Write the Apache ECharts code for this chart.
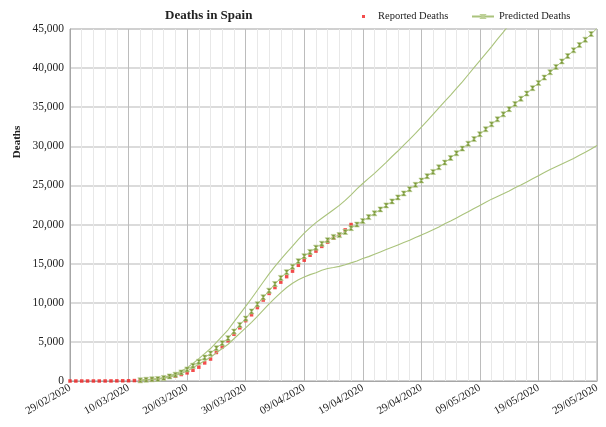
<!DOCTYPE html>
<html>
<head>
<meta charset="utf-8">
<script src="https://cdn.jsdelivr.net/npm/echarts@6/dist/echarts.min.js"></script>
<style>
  html, body { margin: 0; padding: 0; background: #ffffff; }
  #chart { width: 606px; height: 427px; }
</style>
</head>
<body>
<div id="chart"></div>
<script>
// Day index 0 = 29/02/2020; one tick label every 10 days
const tickLabels = ['29/02/2020', '10/03/2020', '20/03/2020', '30/03/2020', '09/04/2020',
                    '19/04/2020', '29/04/2020', '09/05/2020', '19/05/2020', '29/05/2020'];
const lastDay = 90;

// Cumulative reported deaths, day 0 .. day 48
const reportedDeaths = [0, 0, 0, 1, 2, 3, 5, 10, 17, 28, 35, 54, 55, 133, 195, 289, 342, 533, 623, 830,
  1043, 1375, 1772, 2311, 2808, 3647, 4365, 5138, 5982, 6803, 7716, 8464, 9387, 10348, 11198, 11947,
  12641, 13341, 14045, 14792, 15447, 16081, 16606, 17209, 17756, 18255, 18708, 19315, 20002];

// Model output starts on day 12
const forecastStart = 12;
const predictedDeaths = [80, 160, 210, 260, 390, 590, 800, 1100, 1480,
  1950, 2460, 3000, 3520, 4200, 4840, 5480, 6320, 7170, 7975,
  8900, 9800, 10700, 11550, 12400, 13180, 13910, 14620, 15310, 15950,
  16500, 17050, 17550, 18000, 18420, 18650, 19050, 19540, 20000, 20450,
  20950, 21430, 21940, 22450, 22960, 23470, 23980, 24520, 25080, 25630,
  26180, 26730, 27320, 27920, 28510, 29110, 29710, 30340, 30930, 31550,
  32180, 32810, 33450, 34090, 34750, 35400, 36090, 36750, 37430, 38110,
  38790, 39470, 40150, 40860, 41550, 42270, 42950, 43630, 44360, 45080];
const upperBound = [90, 180, 240, 300, 450, 680, 920, 1270, 1700,
  2250, 2850, 3500, 4150, 4950, 5750, 6550, 7550, 8550, 9550,
  10550, 11600, 12650, 13700, 14650, 15550, 16400, 17250, 18100, 18900,
  19600, 20250, 20800, 21350, 21900, 22450, 23100, 23800, 24550, 25250,
  25900, 26550, 27250, 27950, 28700, 29400, 30150, 30900, 31650, 32450,
  33250, 34100, 34930, 35750, 36550, 37400, 38250, 39150, 40050, 40950,
  41850, 42750, 43700, 44600, 45550, 46500];
const lowerBound = [70, 140, 185, 230, 340, 510, 690, 950, 1280,
  1690, 2130, 2590, 3030, 3600, 4150, 4700, 5400, 6100, 6800,
  7500, 8250, 9050, 9850, 10600, 11300, 11950, 12500, 12950, 13300,
  13600, 13850, 14150, 14380, 14500, 14650, 14850, 15100, 15350, 15650,
  15900, 16200, 16500, 16800, 17100, 17400, 17700, 18000, 18350, 18650,
  19000, 19350, 19700, 20100, 20450, 20850, 21250, 21650, 22050, 22450,
  22850, 23250, 23600, 23950, 24300, 24700, 25050, 25450, 25850, 26250,
  26650, 27050, 27400, 27750, 28100, 28450, 28850, 29250, 29650, 30100];

const serif = '"Liberation Serif", "DejaVu Serif", serif';
const green = '#aac37c';
const markerGreen = '#7a9838';

function toPoints(values, startDay) {
  return values.map((v, i) => [startDay + i, v]);
}

const chart = echarts.init(document.getElementById('chart'), null, { renderer: 'canvas' });

chart.setOption({
  animation: false,
  backgroundColor: '#ffffff',
  title: {
    text: 'Deaths in Spain',
    left: 160, top: 4,
    textStyle: { fontFamily: serif, fontSize: 13, fontWeight: 'bold', color: '#222' }
  },
  legend: [
    {
      data: ['Reported Deaths'],
      left: 357, top: 6,
      itemWidth: 3, itemHeight: 3,
      textStyle: { fontFamily: serif, fontSize: 10.5, color: '#222', padding: [0, 0, 0, 8] }
    },
    {
      data: ['Predicted Deaths'],
      left: 466, top: 6,
      itemWidth: 22, itemHeight: 4,
      textStyle: { fontFamily: serif, fontSize: 10.5, color: '#222' }
    }
  ],
  grid: { left: 70, right: 9, top: 29, bottom: 46, show: true, borderColor: '#a6a6a6', borderWidth: 1 },
  graphic: [{
    type: 'text', x: 17, y: 142, rotation: Math.PI / 2,
    style: { text: 'Deaths', font: 'bold 11px ' + serif, fill: '#222', align: 'center', verticalAlign: 'middle' }
  }],
  xAxis: {
    type: 'value', min: 0, max: lastDay, interval: 10,
    axisLine: { show: true, lineStyle: { color: '#a6a6a6' } },
    axisTick: { show: false },
    minorTick: { show: false, splitNumber: 5 },
    splitLine: { show: true, lineStyle: { color: '#bcbcbc', width: 1 } },
    minorSplitLine: { show: true, lineStyle: { color: '#e8e8e8', width: 1 } },
    axisLabel: {
      rotate: 30, margin: 6,
      fontFamily: serif, fontSize: 11, color: '#222',
      formatter: v => tickLabels[Math.round(v / 10)] || ''
    }
  },
  yAxis: {
    type: 'value', min: 0, max: 45000, interval: 5000,
    axisLine: { show: true, lineStyle: { color: '#a6a6a6' } },
    axisTick: { show: false },
    splitLine: { show: true, lineStyle: { color: '#cfcfcf', width: 1.5 } },
    axisLabel: {
      margin: 6, fontFamily: serif, fontSize: 11.5, color: '#222',
      formatter: v => v.toLocaleString('en-US')
    }
  },
  series: [
    {
      name: 'Reported Deaths', type: 'scatter',
      data: toPoints(reportedDeaths, 0),
      symbol: 'rect', symbolSize: 3.5,
      itemStyle: { color: '#f02020' },
      z: 2
    },
    {
      name: 'Upper bound', type: 'line',
      data: toPoints(upperBound, forecastStart),
      showSymbol: false, symbol: 'none', clip: true,
      lineStyle: { color: green, width: 1.1 },
      z: 3
    },
    {
      name: 'Lower bound', type: 'line',
      data: toPoints(lowerBound, forecastStart),
      showSymbol: false, symbol: 'none', clip: true,
      lineStyle: { color: green, width: 1.1 },
      z: 3
    },
    {
      name: 'Predicted Deaths', type: 'line',
      data: toPoints(predictedDeaths, forecastStart),
      clip: true,
      symbol: 'path://M0,0L10,0L6,5L10,10L0,10L4,5Z',
      symbolSize: [5, 5], showAllSymbol: true,
      itemStyle: { color: markerGreen, borderColor: '#bdd097', borderWidth: 0.6 },
      lineStyle: { color: green, width: 1 },
      z: 4
    }
  ]
});
</script>
</body>
</html>
